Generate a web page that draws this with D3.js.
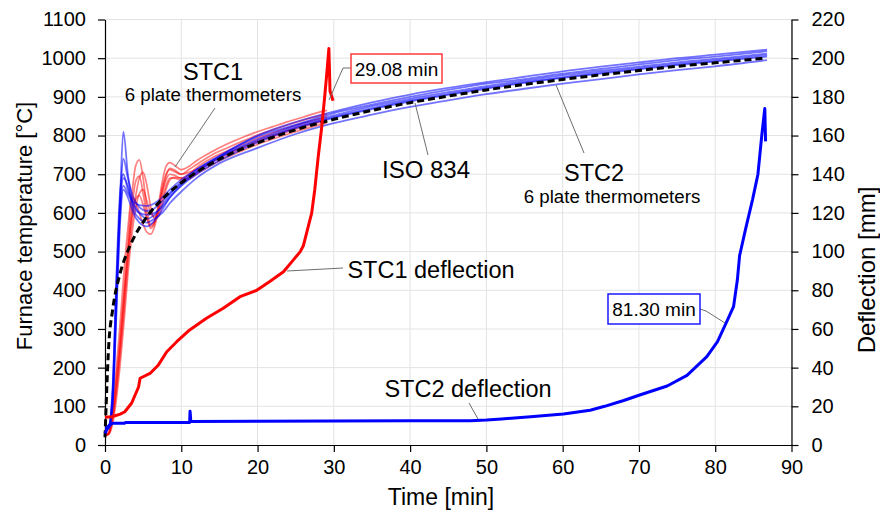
<!DOCTYPE html>
<html><head><meta charset="utf-8">
<script src="https://cdn.jsdelivr.net/npm/d3@7"></script>
<style>body{margin:0;background:#fff} text{font-family:"Liberation Sans",Arial,sans-serif;fill:#000}</style>
</head><body><svg id="c" width="880" height="516"></svg>
<script>
// ---------- data ----------
const timeTicks = [0,10,20,30,40,50,60,70,80,90];
const tempTicks = [0,100,200,300,400,500,600,700,800,900,1000,1100];
const deflTicks = [0,20,40,60,80,100,120,140,160,180,200,220];

const isoTime = [0,0.5,1,2,3,4,5,6,8,10,12,15,20,25,30,35,40,45,50,55,60,65,70,75,80,86.5];
const isoTemp = [20,261,349,445,502,544,576,603,645,678,705,739,781,815,842,865,885,902,918,932,945,957,968,979,988,1000];

const stc2Time = [0,0.5,1,1.5,2,2.4,3,3.7,4.5,5.5,6.5,7.5,8.5,10,12,15,20,25,30,35,40,45,50,55,60,65,70,75,80,86.8];
const stc2Tc1 = [40,45,120,380,650,810,700,620,600,595,600,615,640,672,705,745,800,835,862,886,906,923,938,952,966,978,989,1000,1009,1022];
const stc2Tc2 = [40,48,140,420,640,740,690,640,615,605,612,630,652,680,712,748,797,828,858,880,900,918,934,946,960,972,984,995,1004,1018];
const stc2Tc3 = [45,50,150,440,660,700,660,630,620,618,625,640,660,686,712,745,790,826,852,876,895,912,928,942,956,967,978,989,998,1012];
const stc2Tc4 = [40,45,110,360,600,670,650,625,600,585,595,620,648,676,705,742,786,822,848,871,891,908,924,938,951,963,974,985,994,1008];
const stc2Tc5 = [40,42,100,340,580,660,640,600,575,565,580,608,640,670,700,735,782,819,846,868,888,905,921,936,949,960,971,982,991,1004];
const stc2Tc6 = [45,50,130,400,620,690,670,610,585,575,585,600,625,655,690,728,768,804,832,854,874,891,907,921,934,946,958,969,979,995];

const stc1Time = [0,0.5,1,1.5,2,2.5,3,3.5,4,4.5,5,5.5,6,6.5,7,7.5,8,8.5,9,10,11,12,14,16,18,20,22,24,26,28,29.1];
const stc1Tc1 = [25,30,90,180,280,400,520,640,720,737,690,610,570,580,620,680,720,730,725,712,720,735,758,778,795,810,823,836,848,860,865];
const stc1Tc2 = [25,28,70,150,250,370,490,600,680,695,650,590,560,575,615,665,700,712,708,700,712,725,750,768,785,801,815,828,840,851,856];
const stc1Tc3 = [25,35,100,200,320,450,560,640,630,600,570,550,545,565,605,650,685,700,698,690,700,717,742,760,777,793,807,820,832,843,849];
const stc1Tc4 = [25,30,75,160,270,390,500,590,635,645,620,585,565,575,610,655,695,715,712,700,705,712,735,754,771,787,801,814,826,837,843];
const stc1Tc5 = [25,28,55,120,210,320,440,540,610,650,660,630,600,590,600,635,670,690,690,685,692,707,731,750,767,783,797,810,822,833,839];
const stc1Tc6 = [25,30,65,140,240,350,470,570,640,690,705,670,615,585,590,620,660,685,692,690,688,700,724,744,761,777,791,804,816,827,833];

const defl1Time = [0,0.9,2.0,2.6,3.5,4.4,4.6,5.9,7.0,8.1,9.4,11.1,13.3,15.5,17.7,19.9,21.6,23.4,24.7,25.6,26.0,27.1,27.5,27.95,28.4,28.8,29.1,29.35,29.5,29.9];
const defl1Val  = [14.4,14.6,16,17.2,21.7,30,34.5,37,41.4,48.2,53.4,59.5,65.5,70.7,76.7,80,84.5,89.6,95.7,100,103,120,132,149,164,180,193,205,183,178];

const defl2Time = [0,0.5,1,2.5,2.7,11.1,11.15,11.25,11.3,20,30,40,47.9,50,52,55.8,60.1,63.6,65.5,68,70.2,73.7,76.3,78.9,80.3,81.6,82.4,82.9,83.2,84.0,84.9,85.6,86.1,86.5,86.6];
const defl2Val  = [6,10,11.2,11.2,11.6,11.6,17.5,12.2,12.2,12.3,12.4,12.5,12.6,12.9,13.5,14.6,16,18,20,23,26,30.5,36,45.7,53.4,64.6,71.5,85.3,98,112,127,140,160,174,157];

// ---------- layout ----------
const svg = d3.select("#c");
const x = d3.scaleLinear([0,90],[105,791.5]);
const yT = d3.scaleLinear([0,1100],[445,19.5]);
const yD = d3.scaleLinear([0,220],[445,19.5]);
const fmt = d3.format("d");

// grid
svg.append("g").selectAll("line").data(timeTicks.slice(1)).join("line")
  .attr("x1",d=>x(d)).attr("x2",d=>x(d)).attr("y1",yT(0)).attr("y2",yT(1100))
  .attr("stroke","#e3e3e3").attr("stroke-width",1);
svg.append("g").selectAll("line").data(tempTicks.slice(1)).join("line")
  .attr("x1",x(0)).attr("x2",x(90)).attr("y1",d=>yT(d)).attr("y2",d=>yT(d))
  .attr("stroke","#e3e3e3").attr("stroke-width",1);

// axes
function styleAxis(g){ g.selectAll("path,line").attr("stroke","#000").attr("stroke-width",1.2);
  g.selectAll("text").attr("font-size",20).attr("font-family","Liberation Sans, Arial, sans-serif"); }
svg.append("g").attr("transform",`translate(0,${yT(0)})`)
  .call(d3.axisBottom(x).tickValues(timeTicks).tickFormat(fmt).tickSize(7).tickPadding(8).tickSizeOuter(0)).call(styleAxis);
svg.append("g").attr("transform",`translate(${x(0)},0)`)
  .call(d3.axisLeft(yT).tickValues(tempTicks).tickFormat(fmt).tickSize(7).tickPadding(12).tickSizeOuter(0)).call(styleAxis);
svg.append("g").attr("transform",`translate(${x(90)},0)`)
  .call(d3.axisRight(yD).tickValues(deflTicks).tickFormat(fmt).tickSize(7).tickPadding(13).tickSizeOuter(0)).call(styleAxis);

// axis titles
svg.append("text").attr("x",441).attr("y",505).attr("text-anchor","middle").attr("font-size",23).text("Time [min]");
svg.append("text").attr("transform","translate(32,226) rotate(-90)").attr("text-anchor","middle").attr("font-size",22).text("Furnace temperature [°C]");
svg.append("text").attr("transform","translate(875,270) rotate(-90)").attr("text-anchor","middle").attr("font-size",24).text("Deflection [mm]");

// lines
const lineT = (tArr)=> d3.line().x((d,i)=>x(tArr[i])).y(d=>yT(d)).curve(d3.curveMonotoneX);
const lineD = (tArr)=> d3.line().x((d,i)=>x(tArr[i])).y(d=>yD(d));
const plot = svg.append("g");
[stc1Tc1,stc1Tc2,stc1Tc3,stc1Tc4,stc1Tc5,stc1Tc6].forEach(s=>{
  plot.append("path").attr("d",lineT(stc1Time)(s)).attr("fill","none")
    .attr("stroke","#ff0000").attr("stroke-opacity",0.5).attr("stroke-width",1.7);
});
[stc2Tc1,stc2Tc2,stc2Tc3,stc2Tc4,stc2Tc5,stc2Tc6].forEach(s=>{
  plot.append("path").attr("d",lineT(stc2Time)(s)).attr("fill","none")
    .attr("stroke","#0000ff").attr("stroke-opacity",0.55).attr("stroke-width",1.8);
});
plot.append("path").attr("d",lineT(isoTime)(isoTemp)).attr("fill","none")
  .attr("stroke","#000").attr("stroke-width",3).attr("stroke-dasharray","7,4");
plot.append("path").attr("d",lineD(defl2Time)(defl2Val)).attr("fill","none")
  .attr("stroke","#0000ff").attr("stroke-width",3).attr("stroke-linejoin","round");
plot.append("path").attr("d",lineD(defl1Time)(defl1Val)).attr("fill","none")
  .attr("stroke","#ff0000").attr("stroke-width",3).attr("stroke-linejoin","round");

// annotations
const ann = svg.append("g");
function leader(pts){ ann.append("polyline").attr("points",pts.map(p=>p.join(",")).join(" "))
  .attr("fill","none").attr("stroke","#6e6e6e").attr("stroke-width",1); }
leader([[215,108],[175,167]]);
leader([[415,103],[428,155]]);
leader([[556,85],[584,153]]);
leader([[351,68],[343,68],[329,100]]);
leader([[287,271],[343,268]]);
leader([[469,403],[478,419]]);
leader([[700,309],[706,311],[725,323]]);

function txt(xp,yp,s,size,anchor){ ann.append("text").attr("x",xp).attr("y",yp).attr("font-size",size)
  .attr("text-anchor",anchor||"start").text(s); }
txt(213,80,"STC1",23.5,"middle");
txt(213,101,"6 plate thermometers",18.7,"middle");
txt(426,178,"ISO 834",24,"middle");
txt(594,181,"STC2",23.5,"middle");
txt(612,203,"6 plate thermometers",18.7,"middle");
txt(431,278,"STC1 deflection",23.5,"middle");
txt(468,397,"STC2 deflection",23.5,"middle");

ann.append("rect").attr("x",351).attr("y",54).attr("width",91).attr("height",29)
  .attr("fill","#fff").attr("stroke","#ff3b3b").attr("stroke-width",1.5);
txt(396.5,75.5,"29.08 min",19,"middle");
ann.append("rect").attr("x",608).attr("y",294).attr("width",92).attr("height",30)
  .attr("fill","#fff").attr("stroke","#1a1aff").attr("stroke-width",1.5);
txt(654,315.5,"81.30 min",19,"middle");
</script></body></html>
